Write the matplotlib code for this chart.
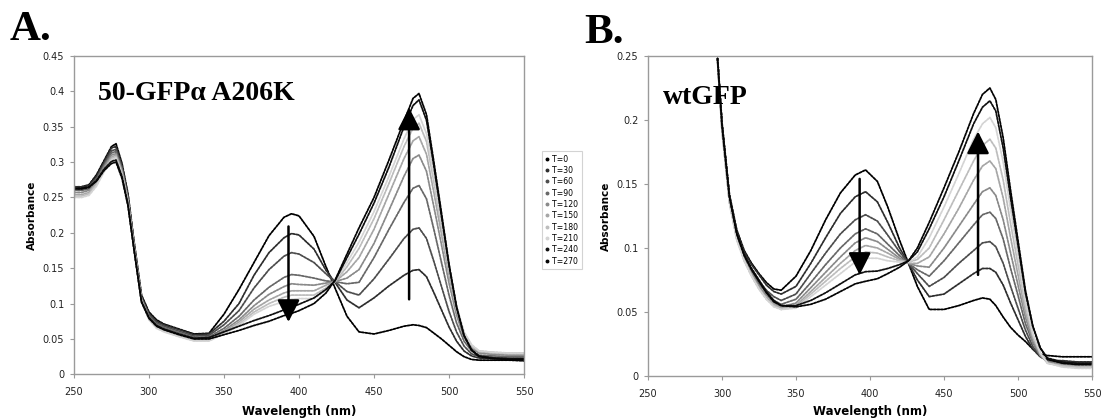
import matplotlib
matplotlib.use("Agg")
import matplotlib.pyplot as plt
from matplotlib.lines import Line2D

# ---------------- data ----------------
series_labels = ["T=0", "T=30", "T=60", "T=90", "T=120", "T=150", "T=180", "T=210", "T=240", "T=270"]
series_colors = ["#000000", "#2e2e2e", "#4d4d4d", "#686868", "#8a8a8a", "#a6a6a6", "#bdbdbd", "#d4d4d4", "#111111", "#050505"]

wl_A = [250, 255, 260, 265, 270, 275, 278, 282, 286, 290, 295, 300, 305, 310, 320, 330, 340,
        350, 360, 370, 380, 390, 395, 400, 410, 418, 424,
        432, 440, 450, 460, 470, 476,
        480, 485, 490, 495, 500, 505, 510, 515, 520,
        530, 540, 550]

A_T0 = [0.265, 0.265, 0.268, 0.282, 0.302, 0.322, 0.326, 0.298, 0.255, 0.188, 0.112, 0.088, 0.077, 0.071, 0.064, 0.057, 0.058,
        0.085, 0.12, 0.158, 0.196, 0.222, 0.227, 0.224, 0.195, 0.152, 0.122,
        0.082, 0.06, 0.057, 0.062, 0.068, 0.07,
        0.069, 0.066, 0.058, 0.05, 0.041, 0.032, 0.025, 0.021, 0.02,
        0.02, 0.02, 0.019]
A_T30 = [0.265, 0.265, 0.267, 0.28, 0.3, 0.32, 0.322, 0.295, 0.252, 0.186, 0.11, 0.086, 0.075, 0.07, 0.063, 0.056, 0.057,
         0.075, 0.1, 0.14, 0.172, 0.193, 0.199, 0.197, 0.177, 0.147, 0.13,
         0.105, 0.094, 0.108, 0.125, 0.14, 0.147,
         0.148, 0.138, 0.115, 0.091, 0.067, 0.047, 0.033, 0.026, 0.023,
         0.022, 0.022, 0.021]
A_T60 = [0.262, 0.262, 0.265, 0.277, 0.297, 0.316, 0.318, 0.292, 0.25, 0.184, 0.108, 0.084, 0.073, 0.068, 0.061, 0.054, 0.055,
         0.07, 0.09, 0.122, 0.148, 0.167, 0.172, 0.17, 0.158, 0.142, 0.131,
         0.117, 0.112, 0.135, 0.163, 0.192, 0.205,
         0.207, 0.192, 0.159, 0.124, 0.089, 0.06, 0.04, 0.029, 0.025,
         0.024, 0.023, 0.023]
A_T90 = [0.26, 0.26, 0.262, 0.275, 0.295, 0.313, 0.315, 0.29, 0.248, 0.183, 0.107, 0.082, 0.071, 0.066, 0.059, 0.052, 0.053,
         0.065, 0.082, 0.105, 0.123, 0.137, 0.141, 0.14, 0.136, 0.132, 0.131,
         0.128, 0.13, 0.165, 0.205, 0.243, 0.263,
         0.267, 0.248, 0.204, 0.158, 0.112, 0.073, 0.047, 0.033, 0.027,
         0.026, 0.025, 0.025]
A_T120 = [0.257, 0.257, 0.26, 0.273, 0.293, 0.31, 0.312, 0.288, 0.246, 0.182, 0.106, 0.08, 0.069, 0.064, 0.057, 0.05, 0.051,
          0.062, 0.077, 0.097, 0.113, 0.124, 0.128, 0.127, 0.126, 0.129, 0.131,
          0.136, 0.148, 0.185, 0.232, 0.28, 0.305,
          0.31, 0.287, 0.236, 0.183, 0.129, 0.084, 0.052, 0.037, 0.03,
          0.028, 0.027, 0.027]
A_T150 = [0.254, 0.254, 0.257, 0.27, 0.29, 0.307, 0.31, 0.286, 0.244, 0.18, 0.105, 0.079, 0.067, 0.062, 0.055, 0.049, 0.049,
          0.06, 0.074, 0.092, 0.105, 0.115, 0.118, 0.118, 0.118, 0.126, 0.131,
          0.145, 0.165, 0.205, 0.255, 0.305, 0.33,
          0.336, 0.311, 0.256, 0.198, 0.14, 0.09, 0.057, 0.04, 0.032,
          0.03, 0.029, 0.029]
A_T180 = [0.252, 0.252, 0.255, 0.268, 0.288, 0.305, 0.308, 0.284, 0.242, 0.179, 0.104, 0.078, 0.066, 0.061, 0.054, 0.048, 0.048,
          0.058, 0.071, 0.088, 0.1, 0.109, 0.112, 0.112, 0.112, 0.122, 0.131,
          0.152, 0.178, 0.22, 0.27, 0.322, 0.348,
          0.355, 0.329, 0.271, 0.209, 0.147, 0.095, 0.059, 0.041, 0.033,
          0.031, 0.03, 0.03]
A_T210 = [0.25, 0.25, 0.253, 0.266, 0.286, 0.303, 0.306, 0.282, 0.241, 0.178, 0.103, 0.077, 0.065, 0.06, 0.053, 0.047, 0.047,
          0.057, 0.069, 0.085, 0.096, 0.103, 0.106, 0.107, 0.107, 0.119, 0.132,
          0.158, 0.187, 0.23, 0.28, 0.333, 0.36,
          0.367, 0.34, 0.279, 0.215, 0.151, 0.097, 0.06, 0.042, 0.033,
          0.031, 0.03, 0.03]
A_T240 = [0.262, 0.262, 0.264, 0.274, 0.29, 0.301, 0.303, 0.28, 0.24, 0.177, 0.103, 0.08, 0.069, 0.064, 0.057, 0.051, 0.052,
          0.06, 0.068, 0.076, 0.083, 0.091, 0.095, 0.099, 0.108, 0.12, 0.132,
          0.165, 0.198, 0.242, 0.293, 0.35, 0.38,
          0.388, 0.359, 0.293, 0.223, 0.154, 0.095, 0.055, 0.035, 0.026,
          0.023, 0.022, 0.022]
A_T270 = [0.263, 0.263, 0.265, 0.273, 0.288, 0.298, 0.3, 0.277, 0.238, 0.176, 0.102, 0.079, 0.068, 0.063, 0.056, 0.05, 0.05,
          0.056, 0.062, 0.069, 0.075, 0.083, 0.086, 0.09, 0.1, 0.115, 0.133,
          0.17, 0.207, 0.25, 0.303, 0.358, 0.39,
          0.397, 0.367, 0.299, 0.228, 0.156, 0.096, 0.055, 0.034, 0.025,
          0.022, 0.021, 0.021]

wl_B = [297, 300, 305, 310, 315, 320, 325, 330, 335, 340,
        350, 360, 370, 380, 390, 397, 405, 412, 420, 426,
        432, 440, 450, 460, 470, 476, 481,
        485, 490, 495, 500, 505, 510, 515, 520,
        530, 540, 550]

B_T0 = [0.248, 0.198, 0.142, 0.114, 0.098, 0.088, 0.08, 0.073, 0.068, 0.067,
        0.078, 0.098, 0.122, 0.143, 0.157, 0.161, 0.152, 0.132, 0.106, 0.088,
        0.07, 0.052, 0.052, 0.055, 0.059, 0.061, 0.06,
        0.055, 0.046, 0.038, 0.032, 0.027, 0.021, 0.017, 0.016,
        0.015, 0.015, 0.015]
B_T30 = [0.248, 0.197, 0.141, 0.113, 0.097, 0.087, 0.079, 0.071, 0.066, 0.064,
         0.07, 0.088, 0.108, 0.127, 0.14, 0.144, 0.136, 0.12, 0.1, 0.088,
         0.075, 0.062, 0.064, 0.072, 0.08, 0.084, 0.084,
         0.081, 0.071, 0.057, 0.044, 0.031, 0.021, 0.015, 0.012,
         0.012, 0.011, 0.011]
B_T60 = [0.247, 0.195, 0.139, 0.11, 0.094, 0.083, 0.074, 0.067, 0.062, 0.059,
         0.064, 0.08, 0.096, 0.111, 0.122, 0.126, 0.121, 0.11, 0.097, 0.088,
         0.08, 0.07, 0.077, 0.088, 0.098, 0.104, 0.105,
         0.101, 0.088, 0.07, 0.053, 0.036, 0.023, 0.016, 0.012,
         0.011, 0.01, 0.01]
B_T90 = [0.247, 0.194, 0.138, 0.109, 0.093, 0.082, 0.072, 0.065, 0.059, 0.056,
         0.06, 0.073, 0.087, 0.1, 0.111, 0.115, 0.111, 0.103, 0.094, 0.088,
         0.083, 0.078, 0.09, 0.104, 0.118, 0.126, 0.128,
         0.123, 0.107, 0.084, 0.063, 0.041, 0.026, 0.016, 0.011,
         0.01, 0.009, 0.009]
B_T120 = [0.247, 0.193, 0.137, 0.108, 0.092, 0.08, 0.07, 0.063, 0.057, 0.054,
          0.057, 0.069, 0.081, 0.093, 0.104, 0.108, 0.105, 0.099, 0.092, 0.088,
          0.086, 0.085, 0.1, 0.117, 0.134, 0.144, 0.147,
          0.141, 0.122, 0.096, 0.071, 0.046, 0.027, 0.016, 0.011,
          0.009, 0.008, 0.008]
B_T150 = [0.246, 0.192, 0.136, 0.107, 0.091, 0.079, 0.069, 0.061, 0.056, 0.053,
          0.055, 0.066, 0.077, 0.088, 0.098, 0.102, 0.1, 0.096, 0.091, 0.088,
          0.088, 0.093, 0.111, 0.131, 0.153, 0.164, 0.168,
          0.162, 0.139, 0.108, 0.079, 0.05, 0.03, 0.017, 0.01,
          0.008, 0.007, 0.007]
B_T180 = [0.246, 0.192, 0.136, 0.107, 0.09, 0.078, 0.068, 0.06, 0.055, 0.052,
          0.054, 0.064, 0.074, 0.084, 0.093, 0.097, 0.096, 0.093, 0.09, 0.089,
          0.091, 0.1, 0.122, 0.145, 0.168, 0.18, 0.185,
          0.178, 0.153, 0.119, 0.087, 0.055, 0.032, 0.018, 0.01,
          0.008, 0.007, 0.007]
B_T210 = [0.246, 0.191, 0.135, 0.106, 0.09, 0.078, 0.068, 0.06, 0.054, 0.052,
          0.053, 0.062, 0.071, 0.08, 0.089, 0.092, 0.092, 0.09, 0.089, 0.089,
          0.093, 0.108, 0.132, 0.158, 0.185, 0.197, 0.202,
          0.194, 0.167, 0.13, 0.094, 0.059, 0.033, 0.018, 0.01,
          0.007, 0.006, 0.006]
B_T240 = [0.248, 0.196, 0.14, 0.111, 0.095, 0.084, 0.075, 0.066, 0.059, 0.055,
          0.055, 0.059, 0.065, 0.072, 0.079, 0.0815, 0.082, 0.084, 0.087, 0.09,
          0.097, 0.115, 0.14, 0.168, 0.197, 0.21, 0.215,
          0.207, 0.178, 0.139, 0.102, 0.065, 0.039, 0.022, 0.014,
          0.011, 0.01, 0.01]
B_T270 = [0.248, 0.196, 0.14, 0.111, 0.094, 0.083, 0.074, 0.065, 0.058, 0.055,
          0.054, 0.056, 0.06, 0.066, 0.072, 0.074, 0.076, 0.08, 0.085, 0.09,
          0.1, 0.12, 0.147, 0.175, 0.205, 0.22, 0.225,
          0.216, 0.186, 0.145, 0.106, 0.067, 0.039, 0.022, 0.013,
          0.01, 0.009, 0.009]

series_A = [A_T0, A_T30, A_T60, A_T90, A_T120, A_T150, A_T180, A_T210, A_T240, A_T270]
series_B = [B_T0, B_T30, B_T60, B_T90, B_T120, B_T150, B_T180, B_T210, B_T240, B_T270]

x_ticks = [250, 300, 350, 400, 450, 500, 550]
yticks_A = [0, 0.05, 0.1, 0.15, 0.2, 0.25, 0.3, 0.35, 0.4, 0.45]
yticks_B = [0, 0.05, 0.1, 0.15, 0.2, 0.25]
ytick_labels_A = ["0", "0.05", "0.1", "0.15", "0.2", "0.25", "0.3", "0.35", "0.4", "0.45"]
ytick_labels_B = ["0", "0.05", "0.1", "0.15", "0.2", "0.25"]

# arrows: (x, tail y, tip y)
arrows_A = [(393, 0.209, 0.074), (473.4, 0.106, 0.377)]
arrows_B = [(393, 0.154, 0.079), (473, 0.079, 0.191)]

# ---------------- figure ----------------
W, H = 1105, 419
fig = plt.figure(figsize=(W / 100, H / 100), dpi=100)

def fx(px):
    return px / W

def fy(py):
    return 1 - py / H

axA = fig.add_axes([fx(74), fy(374.3), fx(450), (374.3 - 56) / H])
axB = fig.add_axes([fx(648), fy(376), fx(444), (376 - 56) / H])

spine_col = "#9a9a9a"

def style(ax, yt, ylab, ymax):
    ax.set_xlim(250, 550)
    ax.set_ylim(0, ymax)
    ax.set_xticks(x_ticks)
    ax.set_xticklabels([str(t) for t in x_ticks])
    ax.set_yticks(yt)
    ax.set_yticklabels(ylab)
    for s in ax.spines.values():
        s.set_color(spine_col)
        s.set_linewidth(1.0)
    ax.tick_params(axis="both", direction="out", length=3, width=0.8, color=spine_col,
                   labelsize=7, labelcolor="#222222")
    ax.tick_params(axis="x", pad=6)
    ax.tick_params(axis="y", pad=4)
    ax.set_xlabel("Wavelength (nm)", fontsize=8.5, fontweight="bold")
    ax.set_ylabel("Absorbance", fontsize=7.5, fontweight="bold")

style(axA, yticks_A, ytick_labels_A, 0.45)
style(axB, yticks_B, ytick_labels_B, 0.25)
axA.xaxis.set_label_coords(0.5, -0.095)
axB.xaxis.set_label_coords(0.5, -0.09)
axA.yaxis.set_label_coords(-0.082, 0.5)
axB.yaxis.set_label_coords(-0.083, 0.5)

def draw(ax, wl, series):
    for vals, col in zip(series, series_colors):
        ax.plot(wl, vals, color=col, lw=1.3, linestyle=(0, (1.2, 0.8)),
                dash_capstyle="round", clip_on=True)

draw(axA, wl_A, series_A)
draw(axB, wl_B, series_B)

def arrows(ax, arr):
    for x, y0, y1 in arr:
        ax.annotate("", xy=(x, y1), xytext=(x, y0),
                    arrowprops=dict(arrowstyle="-|>,head_length=0.75,head_width=0.38",
                                    mutation_scale=18, lw=1.8, color="black",
                                    shrinkA=0, shrinkB=0))

arrows(axA, arrows_A)
arrows(axB, arrows_B)

serif = ["Liberation Serif", "DejaVu Serif"]
fig.text(fx(10), fy(40), "A.", fontsize=31, fontweight="bold", family=serif, va="baseline")
fig.text(fx(584), fy(43), "B.", fontsize=31, fontweight="bold", family=serif, va="baseline")
fig.text(fx(98), fy(100), "50-GFPα A206K", fontsize=20, fontweight="bold", family=serif, va="baseline")
fig.text(fx(663), fy(104), "wtGFP", fontsize=20, fontweight="bold", family=serif, va="baseline")

handles = [Line2D([], [], linestyle="none", marker="o", markersize=1.8, color=c) for c in series_colors]
leg = fig.legend(handles, series_labels, loc="upper left", bbox_to_anchor=(fx(542), fy(151)),
                 fontsize=5.6, frameon=True, fancybox=False, handlelength=0.5, handletextpad=0.4,
                 labelspacing=0.3, borderpad=0.45, borderaxespad=0)
leg.get_frame().set_edgecolor("#c8c8c8")
leg.get_frame().set_linewidth(0.8)

fig.savefig("out.png", dpi=100)
